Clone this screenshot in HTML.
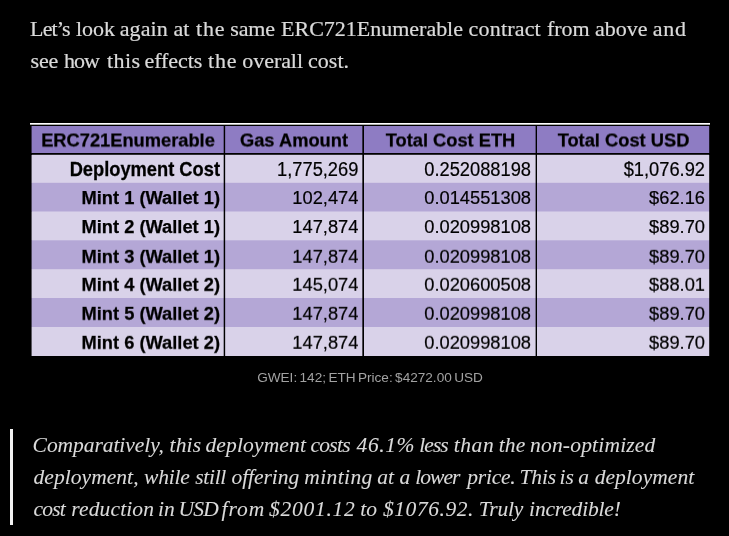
<!DOCTYPE html>
<html>
<head>
<meta charset="utf-8">
<title>ERC721Enumerable gas costs</title>
<style>
  html, body { margin: 0; padding: 0; background: #000; }
  body { width: 729px; height: 536px; position: relative; overflow: hidden;
         font-family: "Liberation Serif", serif; }
  .line { position: absolute; left: 30px; white-space: nowrap;
       font-family: "Liberation Serif", serif; font-size: 22px; line-height: 32px;
       color: #dadada; margin: 0; }

  .line, .q, #cap, #tbl .c { will-change: transform; }

  .w { left: 0 !important; width: 729px; height: 32px; }
  .w span { position: absolute; top: 0; white-space: nowrap; -webkit-text-stroke: 0.22px #dadada; }
  .q.w span { -webkit-text-stroke: 0.08px #dadada; }

  /* table image */
  #tbl { position: absolute; left: 30px; top: 123px; width: 680px; height: 233px;
         background: #000; font-family: "Liberation Sans", sans-serif; }
  #tbl .topline { position: absolute; left: 0; top: 0; width: 680px; height: 2px; background: linear-gradient(to bottom, #fff 0, #fff 1px, #adadad 1px, #adadad 2px); }
  #tbl .row { position: absolute; left: 2px; width: 677px; }
  #tbl .edge { position: absolute; top: 3px; width: 1px; height: 230px;
    background: linear-gradient(to bottom, #8e7cc3 0, #8e7cc3 27px, #000 27px, #000 29px, #d9d2e9 29px, #d9d2e9 57px, #b4a7d6 57px, #b4a7d6 86px, #d9d2e9 86px, #d9d2e9 114px, #b4a7d6 114px, #b4a7d6 143px, #d9d2e9 143px, #d9d2e9 172px, #b4a7d6 172px, #b4a7d6 201px, #d9d2e9 201px, #d9d2e9 230px); }
  #tbl .bl { position: absolute; left: 2px; width: 677px; height: 1px; }
  #tbl .hdr { background: #8e7cc3; }
  #tbl .lt { background: #d9d2e9; }
  #tbl .dk { background: #b4a7d6; }
  #tbl .vl { position: absolute; top: 2px; width: 1px; height: 231px; background: #000; }
  #tbl .c { position: absolute; top: 0; height: 100%; white-space: nowrap; color: #000;
            font-size: 18.3px; }
  #tbl .c { -webkit-text-stroke: 0.2px #000; filter: blur(0.45px); }
  #tbl .b { font-weight: bold; -webkit-text-stroke: 0.25px #000; }
  #tbl .hdr .c { transform: translateY(0.5px) rotate(0.01deg); }
  #tbl .dn .c { transform: translateY(0.8px) rotate(0.01deg); }
  #tbl .r1 .c { transform: scaleY(1.085); transform-origin: 0 21px; }
  #tbl .r { text-align: right; }
  #tbl .m { text-align: center; }

  #cap { position: absolute; left: 30px; width: 680px; top: 368px; text-align: center;
         font-family: "Liberation Sans", sans-serif; font-size: 13.6px; line-height: 20px;
         word-spacing: -1.4px; color: #a2a2a2; }

  #bar { position: absolute; left: 10px; top: 429px; width: 3px; height: 96px; background: #f2f2f2; }
  .q { position: absolute; left: 33px; white-space: nowrap; margin: 0;
       font-family: "Liberation Serif", serif; font-style: italic; font-size: 21.5px; line-height: 32px;
       color: #dadada; }
</style>
</head>
<body>
<p class="line w" id="l1" style="top:13px">
  <span style="left:30.10px;letter-spacing:-0.900px">Let’s</span>
  <span style="left:75.90px;letter-spacing:0.000px">look</span>
  <span style="left:119.70px;letter-spacing:0.090px">again</span>
  <span style="left:173.40px;letter-spacing:0.000px">at</span>
  <span style="left:196.00px;letter-spacing:0.810px">the</span>
  <span style="left:230.30px;letter-spacing:-0.180px">same</span>
  <span style="left:281.10px;letter-spacing:-0.012px">ERC721Enumerable</span>
  <span style="left:468.60px;letter-spacing:0.180px">contract</span>
  <span style="left:546.90px;letter-spacing:0.000px">from</span>
  <span style="left:595.10px;letter-spacing:0.000px">above</span>
  <span style="left:652.80px;letter-spacing:0.720px">and</span>
</p>
<p class="line w" id="l2" style="top:45px">
  <span style="left:30.60px;letter-spacing:-0.180px">see</span>
  <span style="left:63.90px;letter-spacing:-0.900px">how</span>
  <span style="left:107.00px;letter-spacing:0.420px">this</span>
  <span style="left:144.40px;letter-spacing:-0.030px">effects</span>
  <span style="left:208.10px;letter-spacing:0.810px">the</span>
  <span style="left:242.30px;letter-spacing:-0.060px">overall</span>
  <span style="left:308.10px;letter-spacing:0.000px">cost.</span>
</p>

<div id="tbl">
  <div class="topline"></div>
  <div class="row hdr" style="top:3px;height:27px;">
    <div class="c b m" style="left:0;width:192px;line-height:27px;">ERC721Enumerable</div>
    <div class="c b m" style="left:193px;width:138px;line-height:27px;">Gas Amount</div>
    <div class="c b m" style="left:332px;width:173px;line-height:27px;">Total Cost ETH</div>
    <div class="c b m" style="left:506px;width:171px;line-height:27px;">Total Cost USD</div>
  </div>
  <div class="row lt r1" style="top:32px;height:28px;">
    <div class="c b r" style="left:0;width:188px;line-height:29px;">Deployment Cost</div>
    <div class="c r" style="left:193px;width:133.4px;line-height:29px;">1,775,269</div>
    <div class="c r" style="left:332px;width:167px;line-height:29px;">0.252088198</div>
    <div class="c r" style="left:506px;width:167px;line-height:29px;">$1,076.92</div>
  </div>
  <div class="row dk" style="top:60px;height:29px;">
    <div class="c b r" style="left:0;width:188px;line-height:29px;">Mint 1 (Wallet 1)</div>
    <div class="c r" style="left:193px;width:133.4px;line-height:29px;">102,474</div>
    <div class="c r" style="left:332px;width:167px;line-height:29px;">0.014551308</div>
    <div class="c r" style="left:506px;width:167px;line-height:29px;">$62.16</div>
  </div>
  <div class="row lt" style="top:89px;height:28px;">
    <div class="c b r" style="left:0;width:188px;line-height:29px;">Mint 2 (Wallet 1)</div>
    <div class="c r" style="left:193px;width:133.4px;line-height:29px;">147,874</div>
    <div class="c r" style="left:332px;width:167px;line-height:29px;">0.020998108</div>
    <div class="c r" style="left:506px;width:167px;line-height:29px;">$89.70</div>
  </div>
  <div class="row dk dn" style="top:117px;height:29px;">
    <div class="c b r" style="left:0;width:188px;line-height:31px;">Mint 3 (Wallet 1)</div>
    <div class="c r" style="left:193px;width:133.4px;line-height:31px;">147,874</div>
    <div class="c r" style="left:332px;width:167px;line-height:31px;">0.020998108</div>
    <div class="c r" style="left:506px;width:167px;line-height:31px;">$89.70</div>
  </div>
  <div class="row lt dn" style="top:146px;height:29px;">
    <div class="c b r" style="left:0;width:188px;line-height:29px;">Mint 4 (Wallet 2)</div>
    <div class="c r" style="left:193px;width:133.4px;line-height:29px;">145,074</div>
    <div class="c r" style="left:332px;width:167px;line-height:29px;">0.020600508</div>
    <div class="c r" style="left:506px;width:167px;line-height:29px;">$88.01</div>
  </div>
  <div class="row dk dn" style="top:175px;height:29px;">
    <div class="c b r" style="left:0;width:188px;line-height:29px;">Mint 5 (Wallet 2)</div>
    <div class="c r" style="left:193px;width:133.4px;line-height:29px;">147,874</div>
    <div class="c r" style="left:332px;width:167px;line-height:29px;">0.020998108</div>
    <div class="c r" style="left:506px;width:167px;line-height:29px;">$89.70</div>
  </div>
  <div class="row lt dn" style="top:204px;height:29px;">
    <div class="c b r" style="left:0;width:188px;line-height:29px;">Mint 6 (Wallet 2)</div>
    <div class="c r" style="left:193px;width:133.4px;line-height:29px;">147,874</div>
    <div class="c r" style="left:332px;width:167px;line-height:29px;">0.020998108</div>
    <div class="c r" style="left:506px;width:167px;line-height:29px;">$89.70</div>
  </div>
  <div class="bl" style="top:59px;background:#d2c9e5;"></div>
  <div class="bl" style="top:88px;background:#c7bde0;"></div>
  <div class="bl" style="top:117px;background:#bfb4dc;"></div>
  <div class="bl" style="top:146px;background:#d2c9e5;"></div>
  <div style="position:absolute;left:2px;top:31px;width:677px;height:1px;background:#2f2d33;"></div>
  <div class="edge" style="left:1px;opacity:0.42;"></div>
  <div class="edge" style="left:679px;opacity:0.2;"></div>
  <div class="vl" style="left:193px;opacity:0.3;"></div>
  <div class="vl" style="left:194px;"></div>
  <div class="vl" style="left:195px;opacity:0.15;"></div>
  <div class="vl" style="left:332px;opacity:0.65;"></div>
  <div class="vl" style="left:333px;"></div>
  <div class="vl" style="left:505px;opacity:0.38;"></div>
  <div class="vl" style="left:506px;"></div>
</div>

<div id="cap">GWEI: 142; ETH Price: $4272.00 USD</div>

<div id="bar"></div>
<p class="q w" id="q1" style="top:429px">
  <span style="left:32.60px;letter-spacing:-0.055px">Comparatively,</span>
  <span style="left:169.50px;letter-spacing:0.180px">this</span>
  <span style="left:205.40px;letter-spacing:0.160px">deployment</span>
  <span style="left:310.40px;letter-spacing:-0.675px">costs</span>
  <span style="left:356.60px;letter-spacing:0.585px">46.1%</span>
  <span style="left:419.30px;letter-spacing:-0.960px">less</span>
  <span style="left:453.70px;letter-spacing:0.600px">than</span>
  <span style="left:498.80px;letter-spacing:0.090px">the</span>
  <span style="left:530.00px;letter-spacing:0.195px">non-optimized</span>
</p>
<p class="q w" id="q2" style="top:461px">
  <span style="left:33.50px;letter-spacing:0.054px">deployment,</span>
  <span style="left:144.10px;letter-spacing:-0.225px">while</span>
  <span style="left:195.30px;letter-spacing:-0.315px">still</span>
  <span style="left:231.50px;letter-spacing:-0.051px">offering</span>
  <span style="left:304.30px;letter-spacing:0.390px">minting</span>
  <span style="left:377.30px;letter-spacing:0.000px">at</span>
  <span style="left:399.50px;letter-spacing:0.000px">a</span>
  <span style="left:415.30px;letter-spacing:-0.990px">lower</span>
  <span style="left:467.30px;letter-spacing:-0.252px">price.</span>
  <span style="left:519.60px;letter-spacing:-0.180px">This</span>
  <span style="left:559.50px;letter-spacing:0.000px">is</span>
  <span style="left:578.20px;letter-spacing:0.000px">a</span>
  <span style="left:594.70px;letter-spacing:0.040px">deployment</span>
</p>
<p class="q w" id="q3" style="top:493px">
  <span style="left:33.50px;letter-spacing:-0.780px">cost</span>
  <span style="left:71.30px;letter-spacing:0.135px">reduction</span>
  <span style="left:158.00px;letter-spacing:0.000px">in</span>
  <span style="left:178.60px;letter-spacing:-0.850px">USD</span>
  <span style="left:221.50px;letter-spacing:1.020px">from</span>
  <span style="left:269.10px;letter-spacing:0.720px">$2001.12</span>
  <span style="left:360.20px;letter-spacing:0.000px">to</span>
  <span style="left:383.00px;letter-spacing:0.562px">$1076.92.</span>
  <span style="left:478.70px;letter-spacing:-0.225px">Truly</span>
  <span style="left:529.10px;letter-spacing:-0.180px">incredible!</span>
</p>
</body>
</html>
